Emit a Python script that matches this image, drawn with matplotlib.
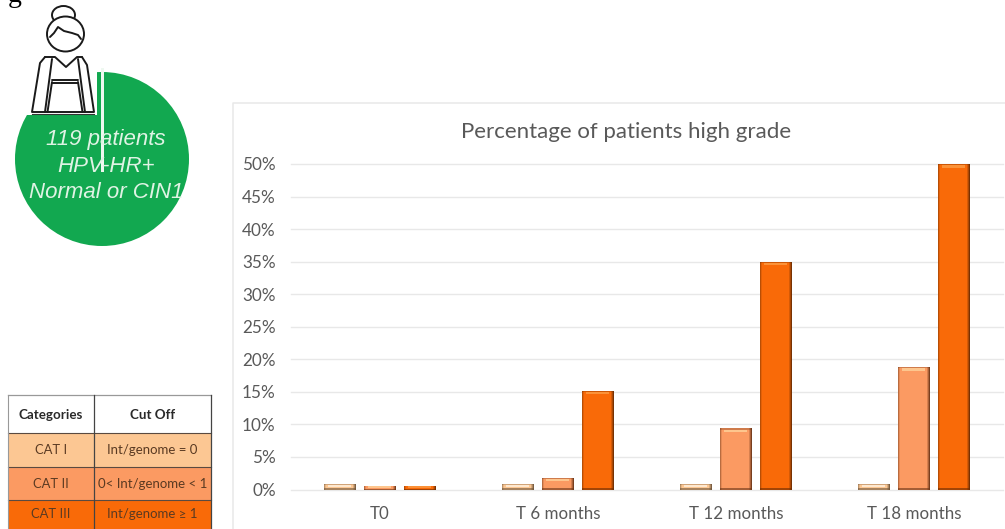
import numpy as np
import matplotlib
matplotlib.use("Agg")
import matplotlib.pyplot as plt
from matplotlib.patches import Circle, Ellipse, Rectangle

W, H = 1005, 529

times = ["T0", "T 6 months", "T 12 months", "T 18 months"]
cat1 = [0.8, 0.8, 0.8, 0.8]
cat2 = [0.6, 1.8, 9.4, 18.8]
cat3 = [0.6, 15.2, 35.0, 50.0]
yticks = [0, 5, 10, 15, 20, 25, 30, 35, 40, 45, 50]

table_head = ["Categories", "Cut Off"]
table_cats = ["CAT I", "CAT II", "CAT III"]
table_cuts = ["Int/genome = 0", "0< Int/genome < 1", "Int/genome \u2265 1"]

col1 = "#fcc793"
col2 = "#fb9a62"
col3 = "#f96a08"
dark1 = "#6f553a"
dark2 = "#6a3518"
dark3 = "#6a2c03"
lite1 = "#fee8cf"
lite2 = "#fdc68e"
lite3 = "#fb9238"
grey = "#595959"

plt.rcParams["font.family"] = ["Lato", "DejaVu Sans"]

fig = plt.figure(figsize=(W / 100, H / 100), dpi=100)

# overlay in pixel coordinates for the frame, circle, icon and table
ov = fig.add_axes([0, 0, 1, 1])
ov.set_xlim(0, W)
ov.set_ylim(H, 0)
ov.axis("off")

# chart frame
ov.plot([232.5, 232.5, W], [H, 103, 103], color="#e8e8e8", lw=1.1)

# green circle
ov.add_patch(Circle((102, 159), 87, fc="#12a850", ec="none"))
ov.add_patch(Rectangle((26, 0), 71, 114.5, fc="white", ec="none"))
ov.add_patch(Rectangle((101, 68), 3, 104, fc="#eef8f0", ec="none"))

for txt, y in zip(["119 patients", "HPV-HR+", "Normal or CIN1"], [139, 166, 192]):
    ov.text(106, y, txt, family="Liberation Sans", style="italic", fontsize=16,
            color="#dff3e4", ha="center", va="center")

# bottom of the cropped caption above
ov.text(15, -5, "g", family="Liberation Serif", fontsize=20, color="black", ha="center", va="center")


def icon(ax):
    k = dict(color="#1a1a1a", lw=1.4, solid_capstyle="round", solid_joinstyle="round")
    ax.add_patch(Ellipse((63.5, 15), 23, 18, fc="white", ec="#1a1a1a", lw=1.4, zorder=1))
    ax.add_patch(Ellipse((65.5, 34), 37, 35, fc="white", ec="#1a1a1a", lw=1.4, zorder=2))
    ax.plot([50, 54, 58, 64, 72, 78, 81], [37, 33, 27, 31, 33, 35, 39], zorder=3, **k)
    # body
    ax.plot([45, 40, 32, 94, 87, 82], [57, 63, 112, 112, 65, 57], **k)
    ax.plot([45, 55, 66, 77, 82], [57, 57, 67, 57, 57], **k)
    ax.plot([52, 45], [59, 112], **k)
    ax.plot([78, 85], [59, 112], **k)
    ax.plot([52, 78], [80, 80], **k)
    ax.plot([52, 78], [82.5, 82.5], **k)
    ax.plot([52, 47.5], [82, 112], **k)
    ax.plot([78, 82.5], [82, 112], **k)
    ax.plot([32, 94], [114, 114], color="#333333", lw=0.8)


icon(ov)

# table
tx = [8, 94, 211]
ty = [395, 433, 467, 500, H]
for i, c in enumerate([col1, col2, col3]):
    ov.add_patch(Rectangle((tx[0], ty[i + 1]), tx[2] - tx[0], ty[i + 2] - ty[i + 1], fc=c, ec="none"))
ov.plot([tx[0], tx[2]], [ty[0], ty[0]], color="#999999", lw=0.9)
for y in ty[1:-1]:
    ov.plot([tx[0], tx[2]], [y, y], color="#5a4a40", lw=0.8)
ov.plot([tx[0], tx[0]], [ty[0], H], color="#999999", lw=0.8)
for xp in tx[1:]:
    ov.plot([xp, xp], [ty[0], H], color="#444444", lw=0.9)
for j, h in enumerate(table_head):
    ov.text((tx[j] + tx[j + 1]) / 2, 415, h, fontsize=9.6, weight="bold", color="#2a2a2a", ha="center", va="center")
for i in range(3):
    mid = (ty[i + 1] + ty[i + 2]) / 2
    ov.text(51, mid, table_cats[i], fontsize=9.4, color="#5a3a22", ha="center", va="center")
    ov.text(152.5, mid, table_cuts[i], fontsize=9.5, color="#5a3a22", ha="center", va="center")

# bar chart
ax = fig.add_axes([291 / W, 1 - 489.5 / H, (1003 - 291) / W, (489.5 - 164) / H])
ax.patch.set_alpha(0)
x = np.arange(len(times))
bw = 0.18
off = 0.2225
px_x = 1 / 178.0
px_y = 50 / 325.5


def bevel_bars(xs, vals, fill, dark, lite):
    ax.bar(xs, vals, bw, color=fill, zorder=3)
    for xi, v in zip(xs, vals):
        left = xi - bw / 2
        right = xi + bw / 2
        # soft edges, strongest on the right
        for n, a in enumerate([0.9, 0.55, 0.25]):
            ax.bar(right - (n + 1) * px_x, v, px_x, align="edge", color=dark, alpha=a, lw=0, zorder=4)
        for n, a in enumerate([0.45, 0.15]):
            ax.bar(left + n * px_x, v, px_x, align="edge", color=dark, alpha=a, lw=0, zorder=4)
        edge = min(1.2 * px_y, v * 0.2)
        ax.bar(left, edge, bw, align="edge", color=dark, alpha=0.6, lw=0, zorder=5)
        ax.bar(left, edge, bw, bottom=v - edge, align="edge", color=dark, alpha=0.3, lw=0, zorder=5)
        # highlight under the top edge
        band = min(2.5 * px_y, v * 0.4)
        ax.bar(left + 4 * px_x, band, bw - 9 * px_x, bottom=v - edge - band, align="edge",
               color=lite, lw=0, zorder=5)


bevel_bars(x - off, cat1, col1, dark1, lite1)
bevel_bars(x, cat2, col2, dark2, lite2)
bevel_bars(x + off, cat3, col3, dark3, lite3)

ax.set_xlim(-0.5, 3.5)
ax.set_ylim(0, 50)
ax.set_yticks(yticks)
ax.set_yticklabels(["%d%%" % t for t in yticks], fontsize=12.3, color=grey)
ax.set_xticks(x)
ax.set_xticklabels(times, fontsize=12.2, color=grey)
ax.tick_params(axis="both", length=0)
ax.tick_params(axis="y", pad=11)
ax.tick_params(axis="x", pad=12)
ax.grid(axis="y", color="#e8e8e8", lw=1.0, zorder=0)
ax.set_axisbelow(True)
for s in ax.spines.values():
    s.set_visible(False)
for line in ax.get_ygridlines():
    line.set_clip_on(False)

ov.text(626, 132, "Percentage of patients high grade", fontsize=16, color=grey, ha="center", va="center")

fig.savefig("out.png", dpi=100)
